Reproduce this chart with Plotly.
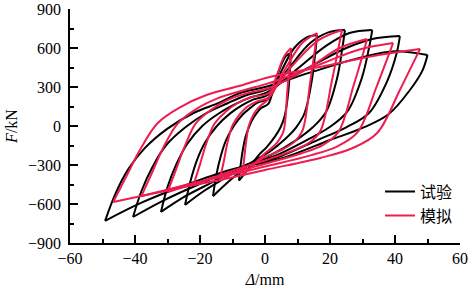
import plotly.graph_objects as go

# ---------------- data ----------------
# Each cycle: loading branch (negative peak -> positive peak) and
# unloading branch (positive peak -> negative peak). Units: mm, kN.

# 试验 (test) cycles
test_up_x = [
    [-8, -7.5, -6.8, -6, -4.8, -3.5, -2.2, -1.1, 1, 3, 5, 6.5, 8],
    [-16, -15, -13.6, -12, -9.6, -7, -4.5, -2.3, 1.2, 5, 9, 12.7, 16],
    [-24.6, -23, -20.9, -18.4, -14.8, -10.8, -7, -3.5, 1, 7.5, 14, 19.5, 24.6],
    [-32, -30, -27.2, -24, -19.3, -14, -9, -4.5, 0.8, 9.5, 19, 26, 33],
    [-40.6, -38, -34.5, -30.5, -24.5, -18, -11.5, -6, 0.5, 12, 25, 33, 41.5],
    [-49.2, -46, -42, -37, -30, -22, -14, -7.7, 0, 15, 30, 40, 50],
]
test_up_f = [
    [-420, -300, -180, -85, 0, 65, 110, 140, 170, 330, 470, 540, 560],
    [-540, -380, -230, -110, 0, 85, 140, 180, 210, 420, 600, 680, 700],
    [-607, -430, -260, -125, 0, 95, 160, 205, 240, 450, 640, 720, 738],
    [-661, -470, -290, -140, 0, 100, 170, 220, 260, 430, 620, 715, 738],
    [-700, -500, -310, -150, -10, 100, 175, 235, 280, 430, 600, 670, 692],
    [-730, -520, -330, -170, -20, 100, 180, 254, 300, 420, 530, 575, 546],
]
test_down_x = [
    [8, 7.7, 7.2, 6.1, 4.8, 3.1, 0.6, -1.8, -4, -6.1, -8],
    [16, 15.5, 14.4, 12.2, 9.6, 6.2, 1.3, -3.5, -8, -12.2, -16],
    [24.6, 23.8, 22.2, 18.8, 14.7, 9.5, 2, -5.4, -12.3, -18.8, -24.6],
    [33, 32, 29.8, 25.3, 19.8, 12.7, 3, -7, -16, -24.5, -32],
    [41.5, 40.5, 37.5, 32, 25, 16, 4, -9, -20.5, -31, -40.6],
    [50, 48.5, 44.6, 38, 30, 20, 5, -10.8, -25, -38, -49.2],
]
test_down_f = [
    [560, 450, 270, 80, -10, -80, -160, -220, -290, -360, -420],
    [700, 570, 350, 100, -10, -100, -200, -270, -360, -450, -540],
    [738, 600, 370, 110, -10, -110, -220, -295, -400, -500, -607],
    [738, 600, 370, 110, -10, -110, -230, -310, -430, -540, -661],
    [692, 560, 340, 100, -10, -110, -240, -330, -450, -570, -700],
    [546, 430, 277, 90, -15, -108, -250, -338, -460, -590, -730],
]

# 模拟 (simulation) cycles
sim_up_x = [
    [-7, -6.4, -5.8, -5, -3.9, -2.7, -1.2, 0.8, 3.5, 6, 8],
    [-14, -12.7, -11.6, -9.9, -7.8, -5.4, -2.4, 1.2, 6.5, 11.5, 16],
    [-22, -20, -18.2, -15.6, -12.3, -8.5, -3.7, 1, 9, 16.5, 23.7],
    [-30, -27.3, -24.8, -21.3, -16.8, -11.5, -5.1, 1, 13, 23, 31.4],
    [-38, -34.6, -31.4, -27, -21.3, -14.6, -6.5, 1.2, 16.5, 28.8, 39.4],
    [-46.7, -42.5, -38.5, -33, -26, -18, -8, 1.5, 20, 35, 47.7],
]
sim_up_f = [
    [-380, -250, -120, 0, 70, 120, 160, 200, 380, 540, 600],
    [-423, -275, -135, 10, 90, 150, 190, 220, 450, 640, 715],
    [-454, -295, -145, 15, 105, 175, 225, 250, 480, 660, 738],
    [-508, -330, -163, 20, 120, 200, 255, 290, 440, 600, 669],
    [-538, -350, -172, 15, 128, 212, 275, 330, 470, 587, 638],
    [-585, -380, -185, 23, 146, 238, 308, 377, 469, 546, 592],
]
sim_down_x = [
    [8, 7.6, 6.9, 5.8, 4.5, 2.9, 0, -1.6, -3.7, -5.7, -7],
    [16, 15.3, 13.9, 11.5, 9.1, 5.8, 0, -3.3, -7.5, -11.3, -14],
    [23.7, 22.6, 20.6, 17, 13.5, 8.5, 0, -5.2, -11.8, -18, -22],
    [31.4, 30, 27.3, 22.6, 17.9, 11.3, 0, -7, -16, -24.5, -30],
    [39.4, 37.6, 34.3, 28.5, 22.3, 14, 0, -9, -20.5, -31, -38],
    [47.7, 45.5, 41.5, 34.5, 27, 17, 0, -11, -25, -38, -46.7],
]
sim_down_f = [
    [600, 480, 280, -30, -100, -150, -210, -250, -300, -350, -380],
    [715, 580, 335, -38, -120, -175, -240, -285, -335, -385, -423],
    [738, 600, 350, -40, -130, -190, -265, -305, -360, -415, -454],
    [669, 540, 315, -45, -145, -210, -290, -340, -400, -465, -508],
    [638, 517, 300, -48, -156, -226, -312, -366, -430, -495, -538],
    [592, 480, 277, -54, -169, -246, -338, -400, -470, -538, -585],
]

x_ticks = [-60, -40, -20, 0, 20, 40, 60]
y_ticks = [-900, -600, -300, 0, 300, 600, 900]


def join_branches(up_x, up_f, down_x, down_f):
    xs, ys = [], []
    for ux, uf, dx, df in zip(up_x, up_f, down_x, down_f):
        xs += ux + [None] + dx + [None]
        ys += uf + [None] + df + [None]
    return xs, ys


tx, ty = join_branches(test_up_x, test_up_f, test_down_x, test_down_f)
sx, sy = join_branches(sim_up_x, sim_up_f, sim_down_x, sim_down_f)

RED = '#EE1D4F'
fig = go.Figure()
fig.add_trace(go.Scatter(x=tx, y=ty, mode='lines', name='试验',
                         line=dict(color='black', width=2, shape='spline', smoothing=1)))
fig.add_trace(go.Scatter(x=sx, y=sy, mode='lines', name='模拟',
                         line=dict(color=RED, width=2, shape='spline', smoothing=1)))

tickfont = dict(family='Liberation Serif', size=16, color='black')
legfont = dict(family='Noto Sans CJK SC', size=16, color='black')

fig.update_layout(
    width=472, height=291,
    showlegend=True,
    margin=dict(l=70, r=12, t=9, b=48, autoexpand=False),
    paper_bgcolor='white', plot_bgcolor='white',
    legend=dict(x=0.795, y=0.168, xanchor='left', yanchor='middle', font=legfont,
                bgcolor='rgba(0,0,0,0)', tracegroupgap=0),
    xaxis=dict(range=[-60, 60], tickvals=x_ticks, ticks='inside', ticklen=8, tickwidth=1.5,
               tickcolor='black', showline=True, linecolor='black', linewidth=1.5,
               showgrid=False, zeroline=False, tickfont=tickfont, automargin=False,
               minor=dict(ticks='inside', ticklen=4, tickwidth=1.5, tickcolor='black', dtick=10,
                          showgrid=False),
               title=dict(text='<i>Δ</i>/mm', font=tickfont, standoff=8)),
    yaxis=dict(range=[-900, 900], tickvals=y_ticks, ticks='inside', ticklen=8, tickwidth=1.5,
               tickcolor='black', showline=True, linecolor='black', linewidth=1.5,
               showgrid=False, zeroline=False, tickfont=tickfont, ticklabelstandoff=4,
               automargin=False,
               minor=dict(ticks='inside', ticklen=4, tickwidth=1.5, tickcolor='black', dtick=150,
                          showgrid=False),
               title=dict(text='<i>F</i>/kN', font=tickfont, standoff=6)),
)

fig.write_html('out.html')
